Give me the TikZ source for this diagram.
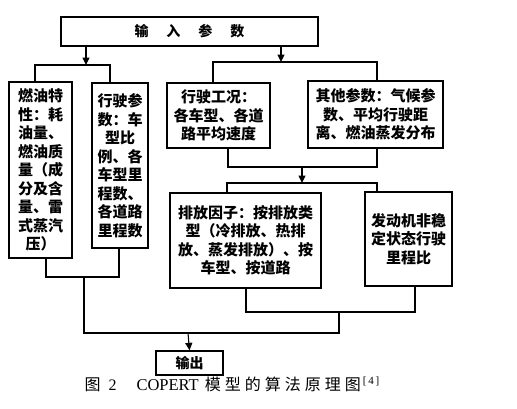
\documentclass[tikz,border=0pt]{standalone}
\usepackage{fontspec}
\setmainfont{Noto Sans CJK SC}
\newfontfamily\lat{Liberation Serif}
\newfontfamily\cjkls[LetterSpace=25]{Noto Sans CJK SC}
\usetikzlibrary{arrows.meta}
\begin{document}
\begin{tikzpicture}[x=1pt,y=-1pt,line width=1.1pt,
  box/.style={draw,line width=1.3pt,inner sep=1pt,align=center,font=\fontsize{15}{18.5}\selectfont\bfseries},
  small/.style={font=\fontsize{14}{16}\selectfont\bfseries},
  arr/.style={-{Triangle[length=7.5pt,width=7pt]}}]
\useasboundingbox (0,0) rectangle (517,408);
% boxes
\node[box,small,minimum width=257pt,minimum height=29pt] (top) at (189.5,31.5) {输\hspace{18pt}入\hspace{18pt}参\hspace{18pt}数};
\node[box,minimum width=63pt,minimum height=176pt] (b1) at (40.5,170) {燃油特\\性：耗\\油量、\\燃油质\\量（成\\分及含\\量、雷\\式蒸汽\\压）};
\node[box,minimum width=56pt,minimum height=165pt] (b2) at (120,165.5) {行驶参\\数：车\\型比\\例、各\\车型里\\程数、\\各道路\\里程数};
\node[box,minimum width=103pt,minimum height=65pt] (b3) at (218.5,115.5) {行驶工况：\\各车型、各道\\路平均速度};
\node[box,minimum width=135pt,minimum height=67pt] (b4) at (375.5,114.5) {其他参数：气候参\\数、平均行驶距\\离、燃油蒸发分布};
\node[box,minimum width=151pt,minimum height=95pt] (b5) at (245.5,240.5) {排放因子：按排放类\\型（冷排放、热排\\放、蒸发排放）、按\\车型、按道路};
\node[box,minimum width=87pt,minimum height=94pt] (b6) at (408.5,239) {发动机非稳\\定状态行驶\\里程比};
\node[box,small,minimum width=67pt,minimum height=24pt] (out) at (189.5,363) {输出};
% junctions
\coordinate (jL) at (86,65);
\coordinate (jL1) at (35,65);
\coordinate (jL2) at (110,65);
\coordinate (jR) at (281,62);
\coordinate (jR1) at (213,62);
\coordinate (jR2) at (377,62);
\coordinate (m1) at (228,167);
\coordinate (m2) at (377,167);
\coordinate (mA) at (302,167);
\coordinate (mB) at (302,183);
\coordinate (m3) at (227,183);
\coordinate (m4) at (377,183);
\coordinate (n1) at (246,312);
\coordinate (n2) at (415,312);
\coordinate (n3) at (339,312);
\coordinate (n4) at (339,333);
\coordinate (n5) at (84,333);
\coordinate (n6) at (84,277);
\coordinate (n7) at (46,277);
\coordinate (n8) at (119,277);
\coordinate (nO) at (188,333);
% connectors
\draw[arr] (top.south -| jL) -- (jL);
\draw (jL1 |- b1.north) -- (jL1) -- (jL2) -- (jL2 |- b2.north);
\draw[arr] (top.south -| jR) -- (jR);
\draw (jR1 |- b3.north) -- (jR1) -- (jR2) -- (jR2 |- b4.north);
\draw (m1 |- b3.south) -- (m1) -- (m2) -- (m2 |- b4.south);
\draw[arr] (mA) -- (mB);
\draw (m3 |- b5.north) -- (m3) -- (m4) -- (m4 |- b6.north);
\draw (n1 |- b5.south) -- (n1) -- (n2) -- (n2 |- b6.south);
\draw (n7 |- b1.south) -- (n7) -- (n8) -- (n8 |- b2.south);
\draw (n3) -- (n4) -- (n5) -- (n6);
\draw[arr] (nO) -- (out.north);
% caption
\node[anchor=west,inner sep=0pt,font=\fontsize{16}{18}\selectfont] (cap) at (84,384) {图\hspace{8pt}{\lat 2}\hspace{20pt}{\lat\fontsize{16.5}{18}\selectfont COPERT}\hspace{6pt}{\cjkls 模型的算法原理图}\hspace{2pt}\raisebox{6pt}{\lat\fontsize{11}{12}\selectfont[\,4\,]}};
\end{tikzpicture}
\end{document}
